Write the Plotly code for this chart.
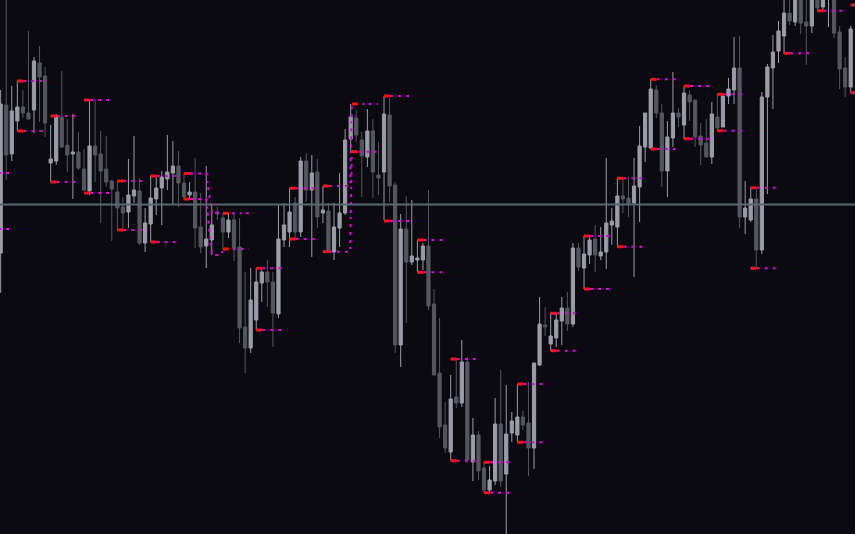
import plotly.graph_objects as go

# ---------------- data ----------------
bars = list(range(154))

high = [444,544,448,453,444,503,477,488,467,409,
        420,463,415,420,402,385,434,435,403,398,
        354,353,337,375,398,356,326,358,357,363,
        399,393,383,361,352,376,341,368,329,327,
        321,321,321,316,262,266,266,264,274,262,
        329,331,346,337,377,381,379,375,348,331,
        331,361,405,430,424,402,425,415,392,438,
        436,352,320,338,334,294,291,344,245,216,
        132,159,175,194,177,116,103,72,68,136,
        164,149,122,150,123,152,171,237,227,221,
        221,237,242,291,291,298,298,309,307,376,
        326,356,355,357,376,408,421,455,449,430,
        413,462,426,448,444,434,411,415,432,440,
        440,456,497,498,353,346,346,442,470,499,
        513,544,544,549,549,544,549,549,549,554,
        549,508,477,508]

low = [241,354,373,403,416,414,401,412,397,352,
       369,386,362,335,364,343,339,352,311,347,
       293,304,304,306,331,289,282,292,319,309,
       344,329,327,334,335,286,281,266,279,314,
       284,296,273,191,161,181,204,232,227,187,
       216,287,287,296,297,332,277,306,311,282,
       274,287,319,382,392,337,367,336,339,314,
       332,181,167,211,269,262,264,224,159,96,
       81,74,126,127,71,53,54,41,41,49,
       47,-6,92,92,104,58,65,168,198,183,
       187,189,203,207,263,245,270,262,274,265,
       289,287,321,317,257,312,372,385,416,347,
       337,387,407,395,413,387,369,377,370,403,
       407,430,430,306,300,312,266,280,340,425,
       471,480,509,508,500,469,501,523,523,507,
       496,445,437,441]

open_ = [281,429,380,413,427,421,424,471,458,371,
         373,417,389,380,382,365,343,388,380,365,
         353,342,327,322,338,343,291,310,335,346,
         355,361,368,351,339,342,307,288,294,322,
         316,302,314,287,207,186,214,251,262,252,
         220,294,302,331,302,373,344,362,321,323,
         282,306,321,395,416,394,377,403,359,362,
         419,349,189,305,272,274,274,288,230,161,
         109,82,137,131,172,72,99,66,44,53,
         110,60,101,99,117,111,86,169,209,190,
         196,213,226,210,286,266,279,295,278,282,
         309,307,338,336,331,347,387,386,444,421,
         363,396,421,409,439,434,398,391,377,417,
         407,438,444,466,317,314,335,284,437,466,
         483,498,521,512,540,512,508,540,527,538,
         540,502,466,447]

close = [430,379,423,427,421,415,473,457,411,375,
         417,387,379,382,366,344,388,379,363,352,
         345,326,321,339,344,291,311,336,346,357,
         362,368,351,337,342,306,287,295,309,320,
         302,314,286,206,186,234,252,262,252,221,
         295,309,322,302,373,344,361,317,324,282,
         307,321,394,417,399,378,403,362,356,420,
         348,189,305,272,278,276,288,228,159,107,
         86,135,131,172,74,99,63,44,54,110,
         53,100,113,117,109,86,171,210,207,198,
         214,226,210,286,267,280,294,279,282,311,
         313,338,335,331,348,388,421,445,421,363,
         397,421,417,441,432,397,389,377,420,406,
         438,445,466,317,326,335,284,437,467,482,
         503,521,513,540,511,508,540,526,541,545,
         501,465,447,505]

# range levels (start bar, end bar, upper level, lower level)
blk_start = [-3, 3, 9, 15, 21, 27, 33, 38, 40, 46, 52, 58, 63.2, 69, 75, 81, 87, 93,
             99, 105, 111, 117, 123, 129, 135, 141, 147, 153]
blk_end = [1.7, 7.7, 13.7, 19.7, 25.7, 31.7, 37.0, 39.7, 44.7, 50.7, 56.7, 62.9, 67.9,
           73.7, 79.7, 85.7, 91.7, 97.7, 103.7, 109.7, 115.7, 121.7, 127.7, 133.7,
           139.7, 145.7, 151.7, 157.7]
blk_upper = [361, 453, 418, 434, 353, 358, 360.5, 321, 320.7, 265.7, 345.7, 348, 430,
             438, 294, 175, 71.7, 150, 220.7, 298, 355.7, 454.7, 448, 439.7, 346.3,
             564, 564, 529]
blk_lower = [305, 403, 352, 341, 304, 292, 335, 279, 285, 204, 295, 282.3, 382.3, 313,
             261.7, 73.3, 41.3, 91.7, 183.3, 245, 287.3, 385, 395.3, 403.3, 265.7,
             480.7, 523.3, 441.3]
blk_marked = [False, True, True, True, True, True, True, False, True, True, True, True,
              True, True, True, True, True, True, True, True, True, True, True, True,
              True, True, True, True]
blk_joined = [False, False, False, False, False, False, True, True, False, False, False,
              True, False, False, False, False, False, False, False, False, False, False,
              False, False, False, False, False, False]

ref_level = 329.5

# ---------------- styling ----------------
BG = "#0a0a10"
LIGHT = "#9a9ca7"
DARK = "#55575e"
MAG = "#e000e0"
RED = "#ff1010"
REFC = "#5d6670"

fig = go.Figure()
fig.add_trace(go.Candlestick(
    x=bars, open=open_, high=high, low=low, close=close,
    increasing=dict(line=dict(color=LIGHT, width=1), fillcolor=LIGHT),
    decreasing=dict(line=dict(color=DARK, width=1), fillcolor=DARK),
    whiskerwidth=0, hoverinfo="skip", showlegend=False))

ux, uy, lx, ly = [], [], [], []
for k in range(len(blk_start)):
    ux += [blk_start[k], blk_end[k]]
    uy += [blk_upper[k], blk_upper[k]]
    lx += [blk_start[k], blk_end[k]]
    ly += [blk_lower[k], blk_lower[k]]
    if not blk_joined[k]:
        ux.append(None); uy.append(None)
        lx.append(None); ly.append(None)

DASH = "2px,4px,3px,5px,3px,5px,3px,5px"
for xs, ys in ((ux, uy), (lx, ly)):
    fig.add_trace(go.Scatter(x=xs, y=ys, mode="lines", connectgaps=False,
                             line=dict(color=MAG, width=2, dash=DASH),
                             hoverinfo="skip", showlegend=False))

rx, ry = [], []
for k in range(len(blk_start)):
    if blk_marked[k]:
        s = blk_start[k]
        for lvl in (blk_upper[k], blk_lower[k]):
            rx += [s, s + 1.05, None]
            ry += [lvl, lvl, None]
fig.add_trace(go.Scatter(x=rx, y=ry, mode="lines", line=dict(color=RED, width=3),
                         hoverinfo="skip", showlegend=False))

fig.add_shape(type="line", xref="paper", x0=0, x1=1, yref="y", y0=ref_level, y1=ref_level,
              line=dict(color=REFC, width=2), layer="above")

fig.update_layout(
    width=855, height=534, margin=dict(l=0, r=0, t=0, b=0),
    paper_bgcolor=BG, plot_bgcolor=BG, showlegend=False,
    boxgap=0.42, boxgroupgap=0,
    xaxis=dict(range=[-0.12, 153.77], visible=False, rangeslider=dict(visible=False),
               showgrid=False, zeroline=False),
    yaxis=dict(range=[0, 534], visible=False, showgrid=False, zeroline=False),
    hovermode=False,
)

fig.write_html("out.html", config={"displayModeBar": False},
               post_script="document.body.style.margin='0';document.body.style.background='%s';" % BG)
